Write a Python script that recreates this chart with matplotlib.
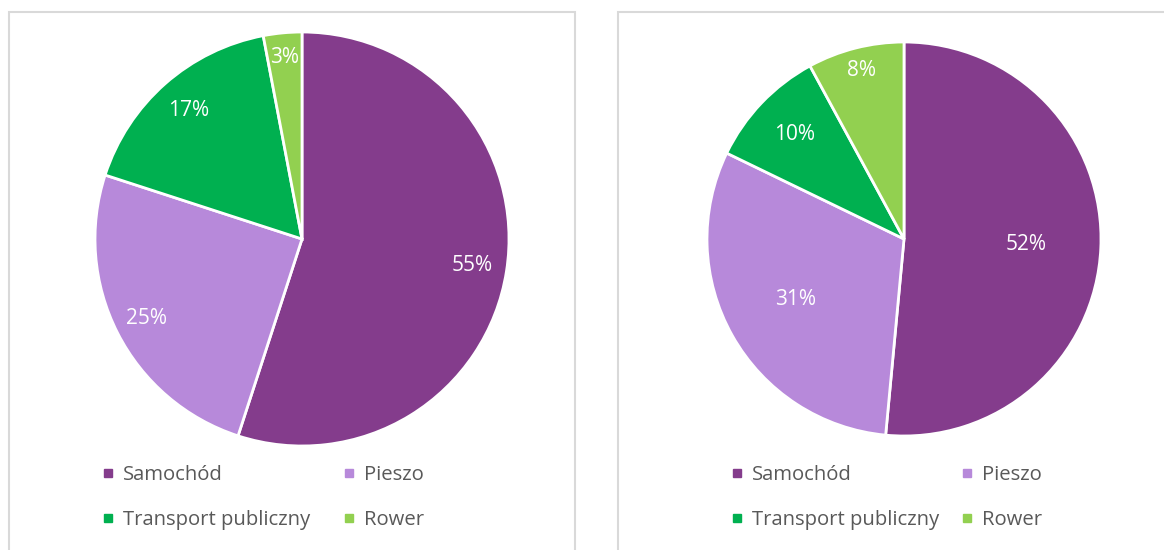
import numpy as np
import matplotlib.pyplot as plt
from matplotlib.lines import Line2D
from matplotlib.patches import Rectangle

plt.rcParams['font.family'] = ['Open Sans', 'DejaVu Sans']

categories = ["Samochód", "Pieszo", "Transport publiczny", "Rower"]
left_values = [55, 25, 17, 3]
right_values = [52, 31, 10, 8]
colors = ["#843C8C", "#B789DA", "#00B050", "#92D050"]

W, H = 1164, 550
fig = plt.figure(figsize=(W / 100, H / 100), dpi=100)


def px_axes(x0, y0_top, w, h):
    # pixel box (top-left origin) -> figure axes
    return fig.add_axes([x0 / W, 1 - (y0_top + h) / H, w / W, h / H])


# panel borders
for x0, x1 in [(9, 575), (618, 1190)]:
    fig.patches.append(Rectangle((x0 / W, -0.05), (x1 - x0) / W, 1 - 11.5 / H + 0.05,
                                 transform=fig.transFigure, fill=False,
                                 edgecolor="#D9D9D9", lw=1.5))


def draw_pie(cx, cy, r, values, dists, leg_x, colspace):
    ax = px_axes(cx - r, cy - r, 2 * r, 2 * r)
    wedges, _ = ax.pie(values, colors=colors, startangle=90, counterclock=False,
                       wedgeprops=dict(edgecolor="white", linewidth=2))
    for w, v, d in zip(wedges, values, dists):
        a = np.deg2rad((w.theta1 + w.theta2) / 2)
        ax.text(d * np.cos(a), d * np.sin(a), f"{v}%", ha="center", va="center",
                color="white", fontsize=15)
    ax.set_xlim(-1, 1)
    ax.set_ylim(-1, 1)
    handles = [Line2D([], [], marker="s", ls="", color=c, markersize=6) for c in colors]
    order = [0, 2, 1, 3]  # row-wise fill for ncol=2
    fig.legend([handles[i] for i in order], [categories[i] for i in order],
               ncol=2, loc="upper left",
               bbox_to_anchor=(leg_x / W, 1 - 465 / H), frameon=False,
               fontsize=14.6, labelcolor="#595959", handlelength=0.6,
               handletextpad=0.45, columnspacing=colspace, labelspacing=1.22,
               borderpad=0, borderaxespad=0)


draw_pie(302, 239, 207, left_values, [0.83, 0.845, 0.83, 0.88], 102, 1.6)
draw_pie(904, 239, 197, right_values, [0.62, 0.63, 0.77, 0.88], 731, 1.05)

fig.savefig("out.png", dpi=100)
